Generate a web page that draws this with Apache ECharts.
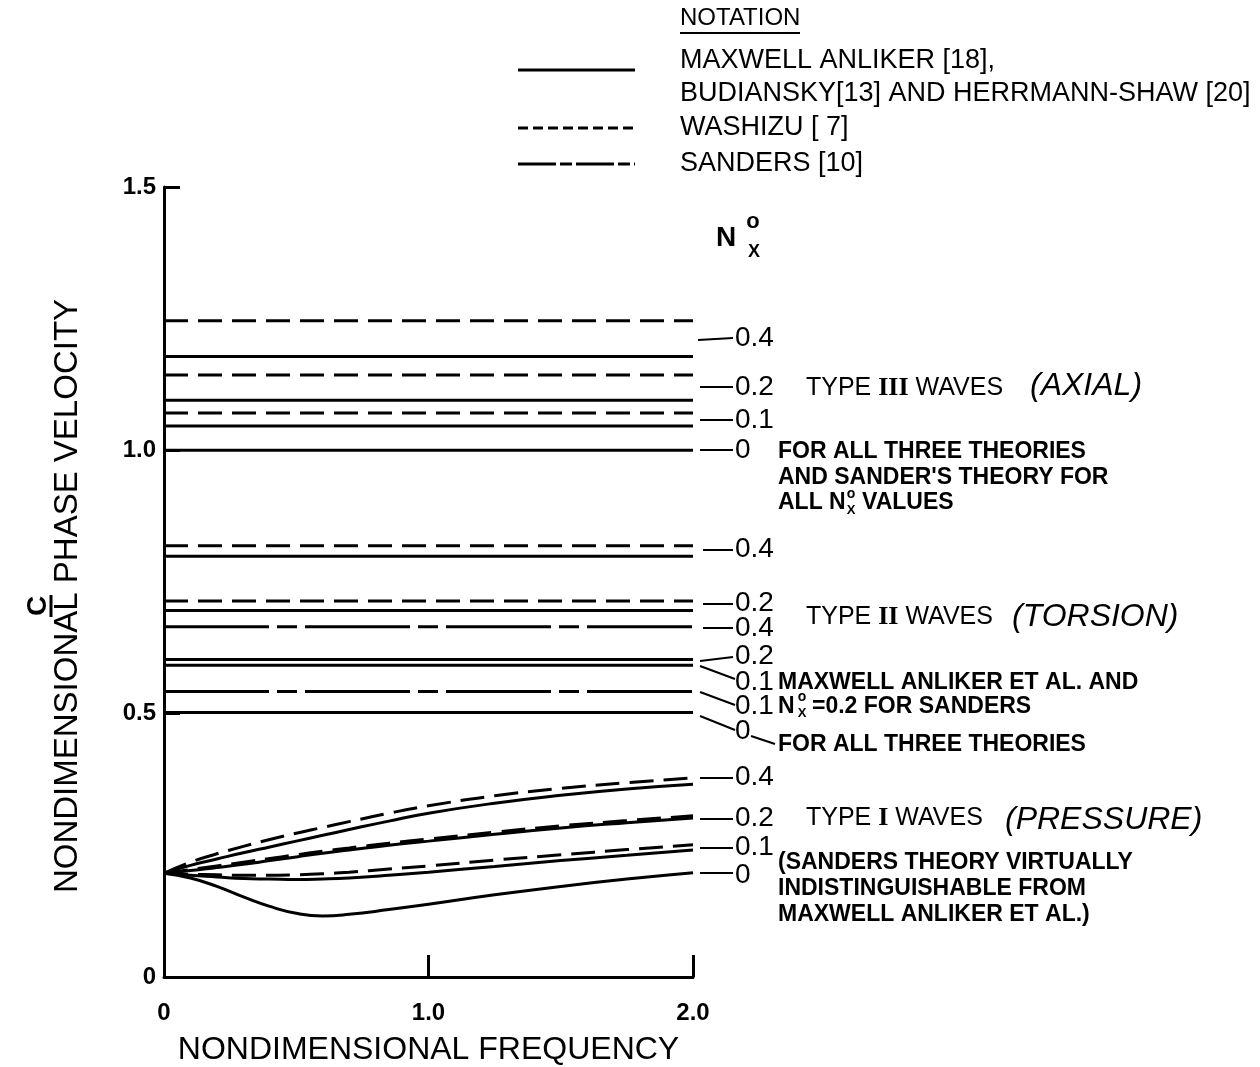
<!DOCTYPE html>
<html>
<head>
<meta charset="utf-8">
<script src="https://cdn.jsdelivr.net/npm/echarts@6/dist/echarts.min.js"></script>
<style>html,body{margin:0;padding:0;background:#fff}#c{width:1260px;height:1067px}</style>
</head>
<body>
<div id="c"></div>
<script>
// ---------- DATA ----------
const lineSpan = [0, 2.0];                       // frequency extent of the constant-velocity lines
const xTickLabels = ['0', '1.0', '2.0'];
const yTickLabels = ['0', '0.5', '1.0', '1.5'];

// Type III (axial) waves, constant phase velocity
const t3Solid  = [1.178, 1.095, 1.046, 1.000];   // Maxwell Anliker et al. Nx0 = 0.4, 0.2, 0.1, 0
const t3Dashed = [1.246, 1.143, 1.071];          // Washizu Nx0 = 0.4, 0.2, 0.1

// Type II (torsion) waves
const t2Solid   = [0.799, 0.696, 0.603, 0.592, 0.502];
const t2Dashed  = [0.819, 0.714];
const t2Sanders = [0.665, 0.542];

// Type I (pressure) waves, frequency dependent
const t1Freq   = [0, 0.1, 0.2, 0.3, 0.4, 0.5, 0.6, 0.7, 0.85, 1.0, 1.25, 1.5, 1.75, 2.0];
const t1Wash04 = [0.197, 0.218, 0.234, 0.248, 0.261, 0.273, 0.284, 0.295, 0.311, 0.325, 0.344, 0.358, 0.369, 0.378];
const t1Max04  = [0.197, 0.212, 0.224, 0.236, 0.247, 0.258, 0.269, 0.280, 0.296, 0.311, 0.330, 0.345, 0.357, 0.366];
const t1Wash02 = [0.197, 0.204, 0.211, 0.218, 0.225, 0.232, 0.239, 0.245, 0.254, 0.262, 0.275, 0.287, 0.297, 0.306];
const t1Max02  = [0.197, 0.202, 0.208, 0.214, 0.221, 0.228, 0.235, 0.241, 0.250, 0.258, 0.271, 0.283, 0.293, 0.302];
const t1Wash01 = [0.197, 0.195, 0.194, 0.193, 0.193, 0.194, 0.196, 0.199, 0.205, 0.211, 0.222, 0.232, 0.242, 0.251];
const t1Max01  = [0.197, 0.193, 0.190, 0.187, 0.186, 0.185, 0.186, 0.188, 0.193, 0.199, 0.210, 0.221, 0.231, 0.241];
const t1Max00  = [0.197, 0.188, 0.172, 0.152, 0.134, 0.121, 0.116, 0.119, 0.128, 0.138, 0.156, 0.172, 0.186, 0.198];

// ---------- STYLE ----------
const LW = 3;
const DASH_WASHIZU = [24, 10];
const DASH_SANDERS = [105, 8, 20, 8];
const FF = '"Liberation Sans", Arial, sans-serif';

const series = [];
function hLine(v, dash) {
  series.push({
    type: 'line', data: lineSpan.map(x => [x, v]), symbol: 'none', silent: true,
    lineStyle: { color: '#000', width: LW, type: dash || 'solid' }
  });
}
t3Solid.forEach(v => hLine(v));
t3Dashed.forEach(v => hLine(v, DASH_WASHIZU));
t2Solid.forEach(v => hLine(v));
t2Dashed.forEach(v => hLine(v, DASH_WASHIZU));
t2Sanders.forEach(v => hLine(v, DASH_SANDERS));

function curve(vals, dash) {
  series.push({
    type: 'line', data: t1Freq.map((f, i) => [f, vals[i]]), symbol: 'none', silent: true,
    smooth: 0.5,
    lineStyle: { color: '#000', width: LW, type: dash || 'solid' }
  });
}
curve(t1Max04); curve(t1Wash04, DASH_WASHIZU);
curve(t1Max02); curve(t1Wash02, DASH_WASHIZU);
curve(t1Max01); curve(t1Wash01, DASH_WASHIZU);
curve(t1Max00);

// ---------- ANNOTATIONS (graphic) ----------
const G = [];
function T(text, x, y, font, opt) {
  opt = opt || {};
  G.push(Object.assign({
    type: 'text', x: x, y: y, silent: true,
    style: { text: text, font: font, fill: '#000', textAlign: opt.align || 'left', textVerticalAlign: 'middle', rich: opt.rich }
  }, opt.extra || {}));
}
function L(x1, y1, x2, y2, w, dash) {
  G.push({ type: 'line', silent: true, shape: { x1, y1, x2, y2 },
    style: { stroke: '#000', lineWidth: w || 2, lineDash: dash || null } });
}
const fLeg = '27px ' + FF;
const fNum = '28px ' + FF;
const fNote = 'bold 23px ' + FF;
const fType = '25px ' + FF;
const fHand = 'italic 32px ' + FF;
const romanRich = { r: { font: 'bold 26px "Liberation Serif", serif', fill: '#000' } };

// notation legend
T('NOTATION', 680, 18, '24px ' + FF);
L(680, 33, 800, 33, 2);
L(518, 70, 635, 70, 3);
T('MAXWELL ANLIKER [18],', 680, 61, fLeg);
T('BUDIANSKY[13] AND HERRMANN-SHAW [20]', 680, 94, fLeg);
L(518, 128, 635, 128, 3, [10, 5]);
T('WASHIZU [ 7]', 680, 128, fLeg);
L(518, 164, 635, 164, 3, [38, 4, 12, 4]);
T('SANDERS [10]', 680, 164, fLeg);

// N_x^0 header
T('N', 726, 238, 'bold 28px ' + FF, { align: 'center' });
T('o', 753, 222, 'bold 22px ' + FF, { align: 'center' });
T('X', 754, 252, 'bold 18px ' + FF, { align: 'center' });

// Type III labels
L(698, 340, 733, 338); T('0.4', 735, 338, fNum);
L(700, 387, 733, 387); T('0.2', 735, 387, fNum);
T('TYPE {r|III} WAVES', 806, 388, fType, { rich: romanRich });
T('(AXIAL)', 1030, 386, fHand);
L(700, 420, 733, 420); T('0.1', 735, 420, fNum);
L(700, 450, 733, 450); T('0', 735, 450, fNum);
T('FOR ALL THREE THEORIES', 778, 452, fNote);
T("AND SANDER'S THEORY FOR", 778, 478, fNote);
T('ALL N', 778, 503, fNote);
T('o', 851, 494, 'bold 14px ' + FF, { align: 'center' });
T('X', 851, 510, 'bold 13px ' + FF, { align: 'center' });
T('VALUES', 862, 503, fNote);

// Type II labels
L(703, 550, 733, 550); T('0.4', 735, 549, fNum);
L(703, 604, 733, 604); T('0.2', 735, 603, fNum);
L(703, 628, 733, 628); T('0.4', 735, 628, fNum);
T('TYPE {r|II} WAVES', 806, 617, fType, { rich: romanRich });
T('(TORSION)', 1012, 617, fHand);
L(700, 661, 733, 657); T('0.2', 735, 656, fNum);
L(700, 666, 735, 679); T('0.1', 735, 682, fNum);
T('MAXWELL ANLIKER ET AL. AND', 778, 683, fNote);
L(700, 692, 735, 705); T('0.1', 735, 706, fNum);
T('N', 778, 707, fNote);
T('o', 802, 697, 'bold 14px ' + FF, { align: 'center' });
T('X', 802, 713, 'bold 13px ' + FF, { align: 'center' });
T('=0.2 FOR SANDERS', 812, 707, fNote);
L(700, 716, 735, 730); T('0', 735, 731, fNum);
L(751, 736, 775, 744);
T('FOR ALL THREE THEORIES', 778, 745, fNote);

// Type I labels
L(700, 778, 733, 778); T('0.4', 735, 777, fNum);
L(700, 819, 733, 819); T('0.2', 735, 818, fNum);
T('TYPE {r|I} WAVES', 806, 818, fType, { rich: romanRich });
T('(PRESSURE)', 1005, 820, fHand);
L(700, 848, 733, 848); T('0.1', 735, 847, fNum);
L(700, 873, 733, 873); T('0', 735, 875, fNum);
T('(SANDERS THEORY VIRTUALLY', 778, 863, fNote);
T('INDISTINGUISHABLE FROM', 778, 889, fNote);
T('MAXWELL ANLIKER ET AL.)', 778, 915, fNote);

// y-axis title with C
T('NONDIMENSIONAL PHASE VELOCITY', 68, 596, '33px ' + FF, { align: 'center', extra: { rotation: Math.PI / 2 } });
T('C', 38, 606, 'bold 28px ' + FF, { align: 'center', extra: { rotation: Math.PI / 2 } });
L(51, 595, 51, 617, 3);

// ---------- CHART ----------
const chart = echarts.init(document.getElementById('c'), null, { renderer: 'canvas' });
chart.setOption({
  backgroundColor: '#fff',
  animation: false,
  grid: { left: 164, right: 567, top: 187, bottom: 90, containLabel: false, outerBoundsMode: 'none' },
  xAxis: {
    type: 'value', min: 0, max: 2, interval: 1,
    name: 'NONDIMENSIONAL FREQUENCY', nameLocation: 'middle', nameGap: 57,
    nameTextStyle: { fontSize: 32, fontFamily: FF, color: '#000' },
    axisLine: { show: true, lineStyle: { color: '#000', width: 3 } },
    axisTick: { show: true, inside: true, length: 22, lineStyle: { color: '#000', width: 3 } },
    axisLabel: { margin: 24, fontSize: 24, fontWeight: 'bold', fontFamily: FF, color: '#000',
      formatter: v => xTickLabels[Math.round(v)] },
    splitLine: { show: false }
  },
  yAxis: {
    type: 'value', min: 0, max: 1.5, interval: 0.5,
    axisLine: { show: true, lineStyle: { color: '#000', width: 3 } },
    axisTick: { show: true, inside: true, length: 16, lineStyle: { color: '#000', width: 3 } },
    axisLabel: { margin: 8, fontSize: 24, fontWeight: 'bold', fontFamily: FF, color: '#000',
      formatter: v => yTickLabels[Math.round(v * 2)] },
    splitLine: { show: false }
  },
  series: series,
  graphic: G
});
</script>
</body>
</html>
